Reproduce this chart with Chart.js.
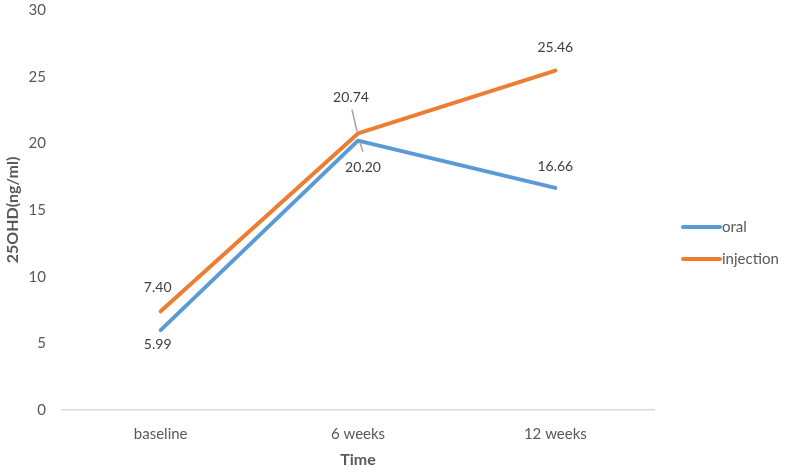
<!DOCTYPE html>
<html>
<head>
<meta charset="utf-8">
<script src="https://cdn.jsdelivr.net/npm/chart.js@4.4.1/dist/chart.umd.min.js"></script>
<style>
  html, body { margin: 0; padding: 0; background: #fff; }
  #wrap { position: relative; width: 788px; height: 472px; }
</style>
</head>
<body>
<div id="wrap"><canvas id="c" width="788" height="472"></canvas></div>
<script>
const categories = ['baseline', '6 weeks', '12 weeks'];
const oral = [5.99, 20.20, 16.66];
const injection = [7.40, 20.74, 25.46];
const seriesNames = ['oral', 'injection'];
const seriesColors = ['#5B9BD5', '#ED7D31'];

const FONT = 'Lato, "Open Sans", sans-serif';
const txt = '#595959';

// label offsets relative to the point (dx, dy) and optional leader line
const labelPlace = [
  [ {dx: -3, dy: 14}, {dx: 5, dy: 27, leader: [2, 2, 5, 11]}, {dx: 0, dy: -21} ],
  [ {dx: -3, dy: -24}, {dx: -7, dy: -36, leader: [-6, -24, -1, -2]}, {dx: 0, dy: -23} ]
];

const valueLabels = {
  id: 'valueLabels',
  afterDatasetsDraw(chart) {
    const ctx = chart.ctx;
    ctx.save();
    ctx.font = '14px ' + FONT;
    ctx.fillStyle = '#404040';
    ctx.textAlign = 'center';
    ctx.textBaseline = 'middle';
    chart.data.datasets.forEach((ds, di) => {
      chart.getDatasetMeta(di).data.forEach((pt, i) => {
        const p = labelPlace[di][i];
        if (p.leader) {
          ctx.strokeStyle = '#a6a6a6';
          ctx.lineWidth = 1.5;
          ctx.beginPath();
          ctx.moveTo(pt.x + p.leader[0], pt.y + p.leader[1]);
          ctx.lineTo(pt.x + p.leader[2], pt.y + p.leader[3]);
          ctx.stroke();
        }
        ctx.fillText(ds.data[i].toFixed(2), pt.x + p.dx, pt.y + p.dy);
      });
    });
    ctx.restore();
  }
};

const sideLegend = {
  id: 'sideLegend',
  afterDraw(chart) {
    const ctx = chart.ctx;
    ctx.save();
    ctx.font = '15px ' + FONT;
    ctx.fillStyle = txt;
    ctx.textBaseline = 'middle';
    ctx.lineCap = 'round';
    chart.data.datasets.forEach((ds, i) => {
      const y = 227 + i * 32;
      ctx.strokeStyle = ds.borderColor;
      ctx.lineWidth = 4;
      ctx.beginPath();
      ctx.moveTo(683, y);
      ctx.lineTo(720, y);
      ctx.stroke();
      ctx.fillText(ds.label, 722, y);
    });
    ctx.restore();
  }
};

new Chart(document.getElementById('c').getContext('2d'), {
  type: 'line',
  data: {
    labels: categories,
    datasets: [
      { label: seriesNames[0], data: oral, borderColor: seriesColors[0], backgroundColor: seriesColors[0],
        borderWidth: 4, pointRadius: 0, tension: 0, borderCapStyle: 'round', borderJoinStyle: 'round' },
      { label: seriesNames[1], data: injection, borderColor: seriesColors[1], backgroundColor: seriesColors[1],
        borderWidth: 4, pointRadius: 0, tension: 0, borderCapStyle: 'round', borderJoinStyle: 'round' },
    ]
  },
  options: {
    responsive: false,
    animation: false,
    layout: { padding: { top: 10, right: 134, left: 0, bottom: 0 } },
    scales: {
      x: {
        offset: true,
        grid: { display: false, drawTicks: false },
        border: { color: '#d9d9d9', width: 1.5 },
        ticks: { color: txt, font: { family: FONT, size: 15 }, padding: 15 },
        title: { display: true, text: 'Time', color: txt, font: { family: FONT, size: 16, weight: 'bold' }, padding: { top: 0, bottom: 3 } },
        afterFit: s => { s.height = 62; s.paddingLeft = 0; s.paddingRight = 0; }
      },
      y: {
        min: 0, max: 30,
        grid: { display: false, drawTicks: false },
        border: { display: false },
        ticks: { stepSize: 5, color: txt, font: { family: FONT, size: 15 }, padding: 16 },
        title: { display: true, text: '25OHD(ng/ml)', color: txt, font: { family: FONT, size: 16, weight: 'bold' }, padding: { top: 3, bottom: 0 } },
        afterFit: s => { s.width = 62; s.paddingTop = 0; s.paddingBottom = 0; }
      }
    },
    plugins: {
      legend: { display: false },
      tooltip: { enabled: false }
    }
  },
  plugins: [valueLabels, sideLegend]
});
</script>
</body>
</html>
